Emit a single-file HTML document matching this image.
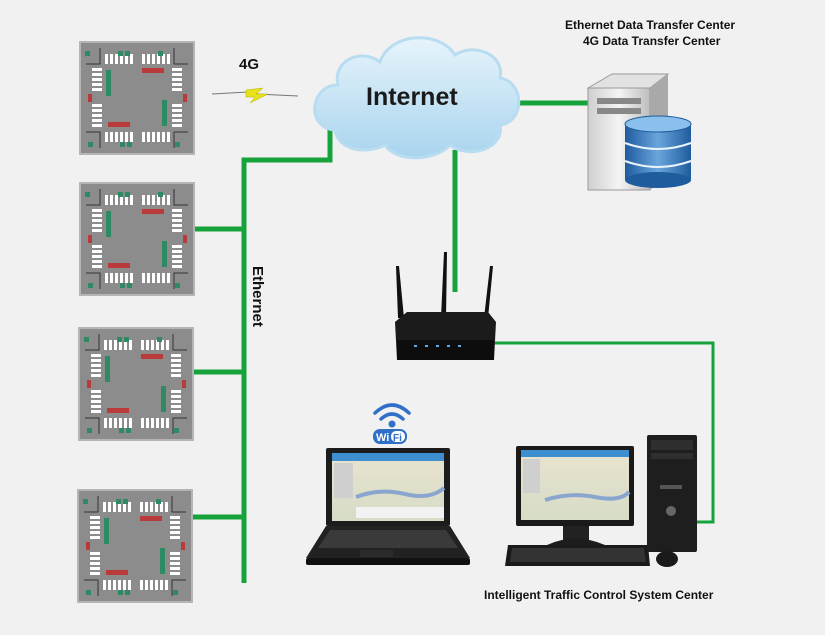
<!DOCTYPE html>
<html><head><meta charset="utf-8"><style>
html,body{margin:0;padding:0;background:#f1f1f1;}
svg{display:block;font-family:"Liberation Sans","DejaVu Sans",sans-serif;}
</style></head><body>
<svg width="825" height="635" viewBox="0 0 825 635" xmlns="http://www.w3.org/2000/svg">
<defs>
<linearGradient id="cl" x1="0" y1="0" x2="0" y2="1"><stop offset="0" stop-color="#e6f4fb"/><stop offset="1" stop-color="#a9d4ee"/></linearGradient>
<linearGradient id="db" x1="0" y1="0" x2="1" y2="0"><stop offset="0" stop-color="#1f5c9e"/><stop offset=".5" stop-color="#6aa5dc"/><stop offset="1" stop-color="#1f5c9e"/></linearGradient>
<linearGradient id="srv" x1="0" y1="0" x2="1" y2="0"><stop offset="0" stop-color="#cfcfcf"/><stop offset=".5" stop-color="#f4f4f4"/><stop offset="1" stop-color="#bdbdbd"/></linearGradient>
<linearGradient id="scr" x1="0" y1="0" x2="0" y2="1"><stop offset="0" stop-color="#e9e3cf"/><stop offset="1" stop-color="#d6dcc6"/></linearGradient>
<g id="ix">
<rect x="0" y="0" width="114" height="112" fill="#8c8c8c" stroke="#b5b5b5" stroke-width="2"/>
<g stroke="#333" stroke-width="1" fill="none">
<path d="M6 22H20V6M94 6V22H108M6 90H20V106M94 106V90H108"/></g>
<g fill="#fff">
<rect x="25" y="12" width="3" height="10"/><rect x="30" y="12" width="3" height="10"/><rect x="35" y="12" width="3" height="10"/><rect x="40" y="12" width="3" height="10"/><rect x="45" y="12" width="3" height="10"/><rect x="50" y="12" width="3" height="10"/>
<rect x="62" y="12" width="3" height="10"/><rect x="67" y="12" width="3" height="10"/><rect x="72" y="12" width="3" height="10"/><rect x="77" y="12" width="3" height="10"/><rect x="82" y="12" width="3" height="10"/><rect x="87" y="12" width="3" height="10"/>
<rect x="25" y="90" width="3" height="10"/><rect x="30" y="90" width="3" height="10"/><rect x="35" y="90" width="3" height="10"/><rect x="40" y="90" width="3" height="10"/><rect x="45" y="90" width="3" height="10"/><rect x="50" y="90" width="3" height="10"/>
<rect x="62" y="90" width="3" height="10"/><rect x="67" y="90" width="3" height="10"/><rect x="72" y="90" width="3" height="10"/><rect x="77" y="90" width="3" height="10"/><rect x="82" y="90" width="3" height="10"/><rect x="87" y="90" width="3" height="10"/>
<rect x="12" y="26" width="10" height="3"/><rect x="12" y="31" width="10" height="3"/><rect x="12" y="36" width="10" height="3"/><rect x="12" y="41" width="10" height="3"/><rect x="12" y="46" width="10" height="3"/>
<rect x="12" y="62" width="10" height="3"/><rect x="12" y="67" width="10" height="3"/><rect x="12" y="72" width="10" height="3"/><rect x="12" y="77" width="10" height="3"/><rect x="12" y="82" width="10" height="3"/>
<rect x="92" y="26" width="10" height="3"/><rect x="92" y="31" width="10" height="3"/><rect x="92" y="36" width="10" height="3"/><rect x="92" y="41" width="10" height="3"/><rect x="92" y="46" width="10" height="3"/>
<rect x="92" y="62" width="10" height="3"/><rect x="92" y="67" width="10" height="3"/><rect x="92" y="72" width="10" height="3"/><rect x="92" y="77" width="10" height="3"/><rect x="92" y="82" width="10" height="3"/>
</g>
<g fill="#2d8a63"><rect x="26" y="28" width="5" height="26"/><rect x="82" y="58" width="5" height="26"/><rect x="5" y="9" width="5" height="5"/><rect x="38" y="9" width="5" height="5"/><rect x="45" y="9" width="5" height="5"/><rect x="78" y="9" width="5" height="5"/><rect x="8" y="100" width="5" height="5"/><rect x="40" y="100" width="5" height="5"/><rect x="47" y="100" width="5" height="5"/><rect x="95" y="100" width="5" height="5"/></g>
<g fill="#b83a3a"><rect x="62" y="26" width="22" height="5"/><rect x="28" y="80" width="22" height="5"/><rect x="8" y="52" width="4" height="8"/><rect x="103" y="52" width="4" height="8"/></g>
</g>
</defs>

<g stroke="#16a33c" stroke-width="5" fill="none">
<path d="M244 583V160H330V105"/>
<path d="M194 229H244M193 372H244M191 517H244"/>
<path d="M512 103H592"/>
<path d="M455 150V292"/>
</g>
<path d="M493 343H713V522H692" stroke="#16a33c" stroke-width="3" fill="none"/>

<use href="#ix" x="80" y="42"/>
<use href="#ix" x="80" y="183"/>
<use href="#ix" x="79" y="328"/>
<use href="#ix" x="78" y="490"/>

<text x="239" y="69" font-size="15" font-weight="bold" fill="#111">4G</text>
<path d="M212 94L248 92M256 94L298 96" stroke="#777" stroke-width="1" fill="none"/>
<path d="M246 90L263 88L256 94L268 94L250 103L255 97L246 97Z" fill="#e8e21a" stroke="#b5b000" stroke-width=".5"/>

<text transform="translate(253,266) rotate(90)" font-size="15" font-weight="bold" fill="#111">Ethernet</text>

<path d="M335 130C305 128 310 85 338 85C332 60 362 48 380 62C390 32 440 30 455 55C475 42 505 55 500 78C525 82 525 122 500 125C505 148 470 160 450 145C435 162 395 162 385 145C365 155 338 150 335 130Z" fill="url(#cl)" stroke="#b8dcf0" stroke-width="3"/>
<text x="366" y="105" font-size="25" font-weight="bold" fill="#1a1a1a">Internet</text>

<text x="565" y="29" font-size="12" font-weight="bold" fill="#111">Ethernet Data Transfer Center</text>
<text x="583" y="45" font-size="12" font-weight="bold" fill="#111">4G  Data Transfer Center</text>
<path d="M588 88L612 74L668 74L650 88Z" fill="#e2e2e2" stroke="#999"/>
<rect x="588" y="88" width="62" height="102" fill="url(#srv)" stroke="#999"/>
<path d="M650 88L668 74V176L650 190Z" fill="#a9a9a9"/>
<rect x="597" y="98" width="44" height="6" fill="#888"/>
<rect x="597" y="108" width="44" height="6" fill="#888"/>
<rect x="625" y="124" width="66" height="56" fill="url(#db)"/>
<ellipse cx="658" cy="180" rx="33" ry="8" fill="#1f5c9e"/>
<ellipse cx="658" cy="124" rx="33" ry="8" fill="#8bc0ec" stroke="#1f5c9e"/>
<path d="M625 143Q658 155 691 143M625 161Q658 173 691 161" stroke="#e9f3fb" stroke-width="2" fill="none"/>

<path d="M398 318L396 266L399 266L404 318Z" fill="#111"/>
<path d="M441 318L444 252L447 252L446 318Z" fill="#111"/>
<path d="M484 318L490 266L493 266L488 318Z" fill="#111"/>
<path d="M395 322L407 312H488L496 322L494 360H397Z" fill="#1b1b1b"/>
<rect x="397" y="340" width="97" height="20" fill="#0d0d0d"/>
<g fill="#5fa7e0"><rect x="414" y="345" width="3" height="2"/><rect x="425" y="345" width="3" height="2"/><rect x="436" y="345" width="3" height="2"/><rect x="447" y="345" width="3" height="2"/><rect x="458" y="345" width="3" height="2"/></g>

<g fill="none" stroke="#2f6fc8" stroke-width="3.5" stroke-linecap="round">
<path d="M375 413Q392 397 409 413"/><path d="M381 419Q392 409 403 419"/></g>
<circle cx="392" cy="424" r="3.5" fill="#2f6fc8"/>
<rect x="373" y="429" width="34" height="15" rx="7" fill="#2f6fc8"/>
<rect x="391" y="431" width="14" height="11" rx="5" fill="#fff"/>
<text x="376" y="441" font-size="11" font-weight="bold" fill="#fff">Wi</text>
<text x="393" y="441" font-size="10" font-weight="bold" fill="#2f6fc8">Fi</text>

<rect x="326" y="448" width="124" height="78" fill="#1c1c1c" rx="2"/>
<rect x="332" y="453" width="112" height="68" fill="url(#scr)"/>
<rect x="332" y="453" width="112" height="8" fill="#3d8fd0"/>
<rect x="334" y="463" width="19" height="35" fill="#cfcfcf"/>
<path d="M356 497Q380 488 405 494T444 488" stroke="#8aa6cf" stroke-width="4" fill="none"/>
<rect x="356" y="507" width="88" height="11" fill="#f2f2f2"/>
<path d="M326 526H450L470 558H306Z" fill="#222"/>
<path d="M330 530H446L458 548H318Z" fill="#3a3a3a"/>
<rect x="360" y="550" width="33" height="7" fill="#2b2b2b"/>
<rect x="306" y="558" width="164" height="7" fill="#111" rx="2"/>

<rect x="516" y="446" width="118" height="80" fill="#1a1a1a" rx="2"/>
<rect x="521" y="450" width="108" height="70" fill="url(#scr)"/>
<rect x="521" y="450" width="108" height="7" fill="#3d8fd0"/>
<rect x="523" y="459" width="17" height="34" fill="#cfcfcf"/>
<path d="M545 500Q570 492 595 497T629 492" stroke="#8aa6cf" stroke-width="4" fill="none"/>
<rect x="563" y="526" width="26" height="14" fill="#222"/>
<path d="M547 545Q575 532 605 545Z" fill="#1d1d1d"/>
<path d="M508 545H648L650 566H505Z" fill="#1a1a1a"/>
<path d="M512 548H644L646 562H510Z" fill="#333"/>
<rect x="647" y="435" width="50" height="117" fill="#1e1e1e" rx="2"/>
<rect x="651" y="440" width="42" height="10" fill="#2e2e2e"/>
<rect x="651" y="453" width="42" height="6" fill="#2e2e2e"/>
<rect x="660" y="485" width="22" height="4" fill="#555"/>
<circle cx="671" cy="511" r="5" fill="#666"/>
<ellipse cx="667" cy="559" rx="11" ry="8" fill="#1a1a1a"/>

<text x="484" y="599" font-size="12" font-weight="bold" fill="#111">Intelligent Traffic Control System Center</text>
</svg>
</body></html>
